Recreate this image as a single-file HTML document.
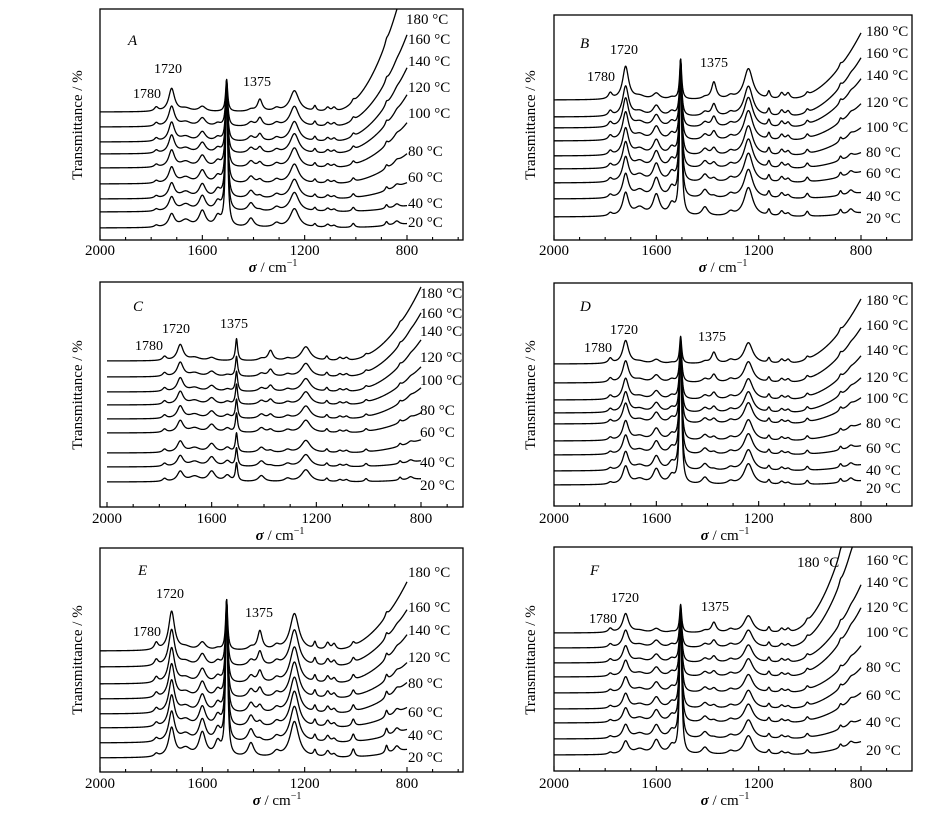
<!DOCTYPE html>
<html><head><meta charset="utf-8"><style>
html,body{margin:0;padding:0;background:#fff;}
svg{display:block;font-family:"Liberation Serif",serif;}
</style></head>
<body>
<svg id="fig" width="945" height="827" viewBox="0 0 945 827" xmlns="http://www.w3.org/2000/svg"></svg>
<script>
// shared band positions (cm-1) and half-widths
const peakCenters = [1780,1720,1665,1600,1540,1410,1375,1310,1240,1160,1110,1085,1010,880,840];
const peakWidths  = [9,14,24,16,14,14,11,14,21,6,9,9,7,6,12];
const spikeCenter = 1505;

// Panel A
const tempsA = [20,40,60,80,100,120,140,160,180];
const baseA  = [12,28,41,56,72,86,98,113,128];
const tailA  = [4,6,16,30,45,59,74,92,140];
const spikeA = [144,128,115,100,86,72,60,46,32];
const loA = [2,13,7,16,10,9,0,4,19,3,3,2,4,4,4];
const hiA = [4,23,3,5,0,2,12,3,21,5,4,4,3,3,0];
const mixA = [0,0.1,0.2,0.3,0.4,0.5,0.6,0.7,1];
// Panel B
const tempsB = [20,40,60,80,100,120,140,160,180];
const baseB  = [23,41,57,71,84,99,112,123,140];
const tailB  = [4,6,11,16,28,37,49,59,67];
const spikeB = [155,137,121,107,94,79,66,55,40];
const loB = [3,23,8,21,11,9,0,4,29,6,5,3,5,5,5];
const hiB = [6,33,3,6,2,2,17,3,31,7,6,6,3,3,0];
const mixB = [0,0.1,0.2,0.3,0.4,0.5,0.6,0.7,1];
// Panel C
const tempsC = [20,40,60,80,100,120,140,160,180];
const baseC  = [25,40,54,74,88,102,115,130,146];
const tailC  = [3,6,13,20,31,38,52,64,74];
const spikeC = [18,18,19,19,19,20,20,20,22];
const loC = [3,10,5,10,6,6,0,3,12,3,2,2,3,3,3];
const hiC = [4,16,3,3,0,2,10,2,14,4,3,3,2,2,0];
const mixC = [0,0.1,0.2,0.3,0.4,0.5,0.6,0.7,1];
// Panel D
const tempsD = [20,40,60,80,100,120,140,160,180];
const baseD  = [21,35,51,65,82,93,106,123,142];
const tailD  = [4,6,9,17,26,35,44,55,65];
const spikeD = [144,130,114,100,84,73,60,43,27];
const loD = [2,18,5,15,8,7,0,3,21,4,3,2,4,4,4];
const hiD = [5,23,2,4,1,2,11,3,21,5,4,4,3,3,0];
const mixD = [0,0.1,0.2,0.3,0.4,0.5,0.6,0.7,1];
// Panel E
const tempsE = [20,40,60,80,120,140,160,180];
const baseE  = [14,29,44,58,73,88,105,121];
const tailE  = [8,13,20,31,36,49,57,69];
const spikeE = [155,140,125,111,96,81,64,50];
const loE = [3,29,8,24,14,14,0,5,36,6,6,3,8,8,6];
const hiE = [7,39,3,8,2,3,19,4,37,7,7,6,4,4,0];
const mixE = [0,0.12,0.25,0.37,0.5,0.62,0.75,1];
// Panel F
const tempsF = [20,40,60,80,100,120,140,160,180];
const baseF  = [16,32,48,62,78,94,108,123,138];
const tailF  = [13,19,30,41,47,69,78,130,160];
const spikeF = [146,130,114,100,84,68,56,41,28];
const loF = [2,13,5,14,8,7,0,3,19,4,3,2,4,4,4];
const hiF = [4,19,2,4,1,2,10,3,17,5,4,4,3,3,0];
const mixF = [0,0.1,0.2,0.3,0.4,0.5,0.6,0.7,1];

const tickValues = [2000,1600,1200,800];
const annLabels = ["1780","1720","1375"];

const NS = "http://www.w3.org/2000/svg";
const svg = document.getElementById("fig");
function mk(tag, attrs, parent){
  const e = document.createElementNS(NS, tag);
  for (const k in attrs) e.setAttribute(k, attrs[k]);
  (parent||svg).appendChild(e);
  return e;
}

const panels = [
 {id:"a",letter:"A",L:100,R:463,T:9,B:240,x2000:100,x800:407,temps:tempsA,base:baseA,tail:tailA,spike:spikeA,lo:loA,hi:hiA,mix:mixA,
  lab:[[408,227],[408,208],[408,182],[408,156],[408,118],[408,92],[408,66],[408,44],[406,24]],
  ann:[[147,98],[168,73],[257,86]],letterPos:[128,45],tickY:255,titleY:272,ytitle:[82,125],xtitle:273},
 {id:"b",letter:"B",L:554,R:912,T:15,B:240,x2000:554,x800:861,temps:tempsB,base:baseB,tail:tailB,spike:spikeB,lo:loB,hi:hiB,mix:mixB,
  lab:[[866,223],[866,201],[866,178],[866,157],[866,132],[866,107],[866,80],[866,58],[866,36]],
  ann:[[601,81],[624,54],[714,67]],letterPos:[580,48],tickY:255,titleY:272,ytitle:[535,125],xtitle:723},
 {id:"c",letter:"C",L:100,R:463,T:282,B:507,x2000:107,x800:421,temps:tempsC,base:baseC,tail:tailC,spike:spikeC,lo:loC,hi:hiC,mix:mixC,
  lab:[[420,490],[420,467],[420,437],[420,415],[420,385],[420,362],[420,336],[420,318],[420,298]],
  ann:[[149,350],[176,333],[234,328]],letterPos:[133,311],tickY:523,titleY:540,ytitle:[82,395],xtitle:280},
 {id:"d",letter:"D",L:554,R:912,T:283,B:506,x2000:554,x800:861,temps:tempsD,base:baseD,tail:tailD,spike:spikeD,lo:loD,hi:hiD,mix:mixD,
  lab:[[866,493],[866,475],[866,453],[866,428],[866,403],[866,382],[866,355],[866,330],[866,305]],
  ann:[[598,352],[624,334],[712,341]],letterPos:[580,311],tickY:523,titleY:540,ytitle:[535,395],xtitle:725},
 {id:"e",letter:"E",L:100,R:463,T:548,B:772,x2000:100,x800:407,temps:tempsE,base:baseE,tail:tailE,spike:spikeE,lo:loE,hi:hiE,mix:mixE,
  lab:[[408,762],[408,740],[408,717],[408,688],[408,662],[408,635],[408,612],[408,577]],
  ann:[[147,636],[170,598],[259,617]],letterPos:[138,575],tickY:788,titleY:805,ytitle:[82,660],xtitle:277},
 {id:"f",letter:"F",L:554,R:912,T:547,B:771,x2000:554,x800:861,temps:tempsF,base:baseF,tail:tailF,spike:spikeF,lo:loF,hi:hiF,mix:mixF,
  lab:[[866,755],[866,727],[866,700],[866,672],[866,637],[866,612],[866,587],[866,565],[797,567]],
  ann:[[603,623],[625,602],[715,611]],letterPos:[590,575],tickY:788,titleY:805,ytitle:[535,660],xtitle:725}
];

panels.forEach(p => {
  const g = mk("g", {});
  
  
  const k = (p.x800 - p.x2000) / 1200;
  const xs = s => p.x2000 + (2000 - s) * k;
  const ys = v => p.B - v;
  const cp = mk("clipPath", {id:"clip-"+p.id}, g);
  mk("rect", {x:p.L, y:p.T, width:p.R-p.L, height:p.B-p.T}, cp);
  const fr = mk("rect", {x:p.L, y:p.T, width:p.R-p.L, height:p.B-p.T, fill:"none", stroke:"#000", "stroke-width":1.3}, g);
  
  
  for (let s = 2000; s >= 600; s -= 100) {
    const x = xs(s);
    if (x > p.R - 1 || x < p.L) continue;
    const major = tickValues.indexOf(s) >= 0;
    const t = mk("line", {x1:x, x2:x, y1:p.B, y2:p.B - (major ? 5 : 3), stroke:"#000", "stroke-width":1.1}, g);
    
    
  }
  tickValues.forEach(v => {
    const t = mk("text", {x:xs(v), y:p.tickY, "font-size":15, "text-anchor":"middle"}, g);
    t.textContent = v;
    
    
  });
  const xt = mk("text", {x:p.xtitle, y:p.titleY, "font-size":15, "text-anchor":"middle"}, g);
  xt.innerHTML = '<tspan font-style="italic" font-weight="bold">σ</tspan> / cm<tspan dy="-6" font-size="10">−1</tspan>';
  
  
  const yt = mk("text", {x:p.ytitle[0], y:p.ytitle[1], "font-size":15, "text-anchor":"middle", transform:`rotate(-90 ${p.ytitle[0]} ${p.ytitle[1]})`}, g);
  yt.textContent = "Transmittance / %";
  
  
  const lt = mk("text", {x:p.letterPos[0], y:p.letterPos[1], "font-size":15, "font-style":"italic"}, g);
  lt.textContent = p.letter;
  
  
  annLabels.forEach((a, i) => {
    const t = mk("text", {x:p.ann[i][0], y:p.ann[i][1], "font-size":14, "text-anchor":"middle"}, g);
    t.textContent = a;
    
    
  });
  const cg = mk("g", {"clip-path":"url(#clip-"+p.id+")"}, g);
  p.temps.forEach((temp, j) => {
    const m = p.mix[j];
    const amps = peakCenters.map((c, i) => p.lo[i] + (p.hi[i] - p.lo[i]) * m);
    let d = "";
    for (let s = 2000; s >= 800; s -= 1) {
      let v = p.base[j];
      for (let i = 0; i < peakCenters.length; i++) {
        const u = (s - peakCenters[i]) / peakWidths[i];
        v += amps[i] / (1 + u * u);
      }
      const us = (s - spikeCenter) / 5;
      v += p.spike[j] / (1 + us * us);
      if (s < 1100) v += p.tail[j] * Math.pow((1100 - s) / 300, 2.2);
      d += (s === 2000 ? "M" : "L") + xs(s).toFixed(2) + " " + ys(v).toFixed(2);
    }
    const path = mk("path", {d:d, fill:"none", stroke:"#000", "stroke-width":1.3, "stroke-linejoin":"round"}, cg);
    
    
    const lab = mk("text", {x:p.lab[j][0], y:p.lab[j][1], "font-size":15}, g);
    lab.textContent = temp + " °C";
    
    
  });
});
</script>
</body></html>
